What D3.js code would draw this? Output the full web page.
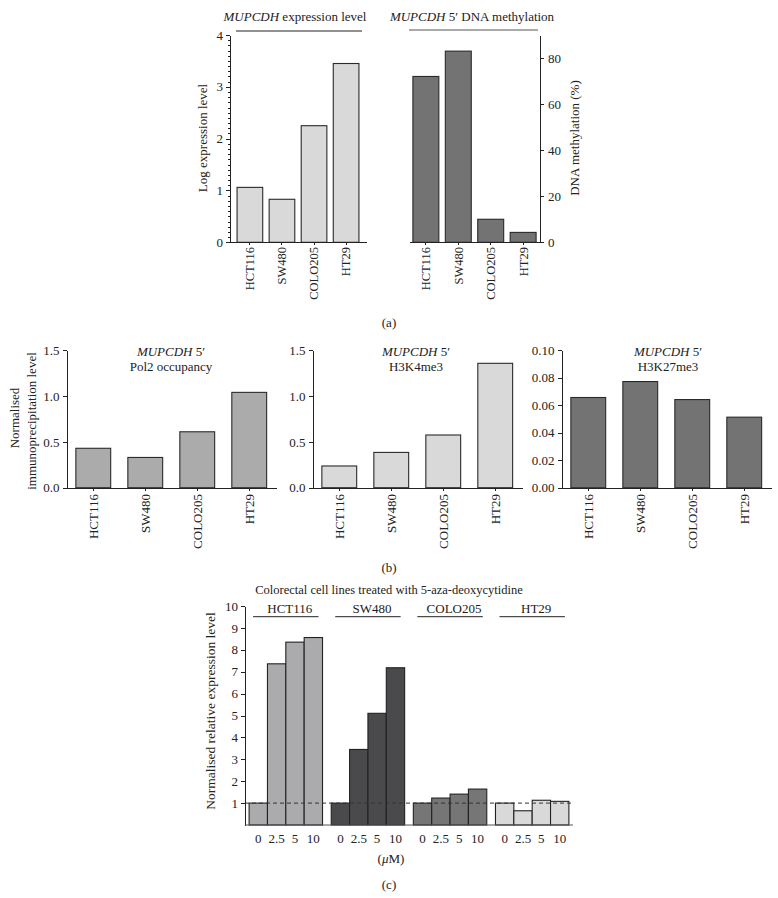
<!DOCTYPE html>
<html><head><meta charset="utf-8">
<script src="https://cdn.jsdelivr.net/npm/d3@7"></script>
<style>
body{margin:0;background:#fff;}
svg{display:block;font-family:"Liberation Serif","DejaVu Serif",serif;}
.ax path,.ax line{stroke:#222;stroke-width:1;shape-rendering:crispEdges;}
.ax text{font-size:13px;fill:#222;font-family:"Liberation Serif",serif;}
</style></head><body>
<svg id="c" width="778" height="898"></svg>
<script>
// ---------- DATA ----------
const cellLines = ["HCT116", "SW480", "COLO205", "HT29"];
const exprLevel = [1.06, 0.83, 2.25, 3.45];          // log expression level
const methylation = [72, 83, 10, 4.3];               // DNA methylation (%)
const exprTicks = [0, 1, 2, 3, 4];
const methTicks = [0, 20, 40, 60, 80];

const pol2 = [0.43, 0.33, 0.61, 1.04];
const h3k4me3 = [0.237, 0.385, 0.575, 1.357];
const h3k27me3 = [0.0656, 0.0772, 0.0641, 0.0513];
const bTicks15 = [0, 0.5, 1.0, 1.5];
const bTicks01 = [0, 0.02, 0.04, 0.06, 0.08, 0.10];

const doses = ["0", "2.5", "5", "10"];
const azaHCT116 = [1, 7.36, 8.35, 8.56];
const azaSW480 = [1, 3.45, 5.1, 7.18];
const azaCOLO205 = [1, 1.23, 1.41, 1.64];
const azaHT29 = [1, 0.65, 1.13, 1.08];
const cTicks = [1, 2, 3, 4, 5, 6, 7, 8, 9, 10];

// ---------- helpers ----------
const svg = d3.select("#c");
const INK = "#222";

function styleAxis(g){ g.attr("class","ax"); return g; }

function rotLabels(x, cats, y0, size){
  svg.append("g").selectAll("text").data(cats).join("text")
    .attr("transform", d => `translate(${x(d) + x.bandwidth()/2},${y0}) rotate(-90)`)
    .attr("text-anchor","end").attr("dy","0.35em")
    .style("font-size", size + "px").attr("fill", INK).text(d => d);
}

function bars(x, y, cats, vals, fill){
  svg.append("g").selectAll("rect").data(cats).join("rect")
    .attr("x", d => x(d)).attr("width", x.bandwidth())
    .attr("y", (d,i) => y(vals[i])).attr("height", (d,i) => y(0) - y(vals[i]))
    .attr("fill", fill).attr("stroke", "#2a2a2a").attr("stroke-width", 1.1);
}

function titleMUP(x, y, rest, size){
  const t = svg.append("text").attr("x", x).attr("y", y).attr("text-anchor","middle")
    .style("font-size", size + "px").attr("fill", INK);
  t.append("tspan").style("font-style","italic").text("MUPCDH");
  t.append("tspan").text(rest);
  return t;
}

function yLabel(x, y, txt, size){
  svg.append("text").attr("transform", `translate(${x},${y}) rotate(-90)`)
    .attr("text-anchor","middle").style("font-size", size+"px").attr("fill", INK).text(txt);
}

// ================= PANEL (a) =================
const yA = d3.scaleLinear().domain([0, 4]).range([242.3, 35]);
const yM = d3.scaleLinear().domain([0, 90]).range([242.3, 35]);
const xAL = d3.scaleBand().domain(cellLines).range([230, 366]).paddingInner(0.2).paddingOuter(0.22);
const xAR = d3.scaleBand().domain(cellLines).range([409, 540]).paddingInner(0.2).paddingOuter(0.12);

bars(xAL, yA, cellLines, exprLevel, "#d9d9d9");
bars(xAR, yM, cellLines, methylation, "#737373");

// minor ticks left
styleAxis(svg.append("g").attr("transform","translate(230,0)")
  .call(d3.axisLeft(yA).tickValues(d3.range(0, 41).map(i => i/10)).tickSize(2).tickSizeOuter(0).tickFormat("")));
styleAxis(svg.append("g").attr("transform","translate(230,0)")
  .call(d3.axisLeft(yA).tickValues(exprTicks).tickSize(4).tickSizeOuter(0).tickPadding(3).tickFormat(d3.format("d"))));
styleAxis(svg.append("g").attr("transform","translate(540,0)")
  .call(d3.axisRight(yM).tickValues(methTicks).tickSize(4).tickSizeOuter(0).tickPadding(4).tickFormat(d3.format("d"))));
styleAxis(svg.append("g").attr("transform",`translate(0,${yA(0)})`)
  .call(d3.axisBottom(xAL).tickSize(3).tickSizeOuter(0).tickFormat("")));
styleAxis(svg.append("g").attr("transform",`translate(0,${yA(0)})`)
  .call(d3.axisBottom(xAR).tickSize(3).tickSizeOuter(0).tickFormat("")));
rotLabels(xAL, cellLines, 247, 12.5);
rotLabels(xAR, cellLines, 247, 12.5);

titleMUP(295, 21, " expression level", 13);
titleMUP(472, 21, " 5\u2032 DNA methylation", 13);
svg.append("line").attr("x1", 236).attr("x2", 362).attr("y1", 31).attr("y2", 31).attr("stroke", INK);
svg.append("line").attr("x1", 409).attr("x2", 538).attr("y1", 30).attr("y2", 30).attr("stroke", "#555");
yLabel(207, 138, "Log expression level", 13);
yLabel(579, 138, "DNA methylation (%)", 13);
svg.append("text").attr("x", 389).attr("y", 327).attr("text-anchor","middle").style("font-size","13px").attr("fill",INK).text("(a)");

// ================= PANEL (b) =================
const bCharts = [
  {x0: 66.5, vals: pol2, fill: "#ababab", dom: 1.5, ticks: bTicks15, fmt: d3.format(".1f"), sub: "Pol2 occupancy", cx: 171},
  {x0: 312.5, vals: h3k4me3, fill: "#d9d9d9", dom: 1.5, ticks: bTicks15, fmt: d3.format(".1f"), sub: "H3K4me3", cx: 416},
  {x0: 561.5, vals: h3k27me3, fill: "#737373", dom: 0.10, ticks: bTicks01, fmt: d3.format(".2f"), sub: "H3K27me3", cx: 668}
];
bCharts.forEach(c => {
  const y = d3.scaleLinear().domain([0, c.dom]).range([487.7, 350.2]);
  const x = d3.scaleBand().domain(cellLines).range([c.x0, c.x0 + 209.5]).paddingInner(0.33).paddingOuter(0.18);
  bars(x, y, cellLines, c.vals, c.fill);
  styleAxis(svg.append("g").attr("transform",`translate(${c.x0},0)`)
    .call(d3.axisLeft(y).tickValues(c.ticks).tickSize(4).tickSizeOuter(0).tickPadding(3).tickFormat(c.fmt)));
  styleAxis(svg.append("g").attr("transform",`translate(0,${y(0)})`)
    .call(d3.axisBottom(x).tickSize(3).tickSizeOuter(0).tickFormat("")));
  rotLabels(x, cellLines, 494, 13);
  titleMUP(c.cx, 356, " 5\u2032", 13);
  svg.append("text").attr("x", c.cx).attr("y", 371).attr("text-anchor","middle")
    .style("font-size","13px").attr("fill",INK).text(c.sub);
});
yLabel(19, 418, "Normalised", 13);
yLabel(36, 421, "immunoprecipitation level", 13);
svg.append("text").attr("x", 389).attr("y", 572).attr("text-anchor","middle").style("font-size","13px").attr("fill",INK).text("(b)");

// ================= PANEL (c) =================
const groups = [
  {name: "HCT116", vals: azaHCT116, fill: "#ababad"},
  {name: "SW480", vals: azaSW480, fill: "#4a4a4c"},
  {name: "COLO205", vals: azaCOLO205, fill: "#767677"},
  {name: "HT29", vals: azaHT29, fill: "#d9d9d9"}
];
const yC = d3.scaleLinear().domain([0, 10]).range([825, 606]);
const xG = d3.scaleBand().domain(groups.map(g => g.name)).range([245, 573]).paddingInner(0.106).paddingOuter(0.05);
const xD = d3.scaleBand().domain(doses).range([0, xG.bandwidth()]).padding(0);

groups.forEach(g => {
  const gg = svg.append("g").attr("transform", `translate(${xG(g.name)},0)`);
  gg.selectAll("rect").data(doses).join("rect")
    .attr("x", d => xD(d)).attr("width", xD.bandwidth())
    .attr("y", (d,i) => yC(g.vals[i])).attr("height", (d,i) => yC(0) - yC(g.vals[i]))
    .attr("fill", g.fill).attr("stroke", "#222").attr("stroke-width", 1.1);
  gg.selectAll("text").data(doses).join("text")
    .attr("x", d => xD(d) + xD.bandwidth()/2).attr("y", 843).attr("text-anchor","middle")
    .style("font-size","13px").attr("fill",INK).text(d => d);
  // group header
  svg.append("text").attr("x", xG(g.name) + xG.bandwidth()/2 + 4).attr("y", 613).attr("text-anchor","middle")
    .style("font-size","13px").attr("fill",INK).text(g.name);
  svg.append("line").attr("x1", xG(g.name) + 4).attr("x2", xG(g.name) + xG.bandwidth() - 4)
    .attr("y1", 616.7).attr("y2", 616.7).attr("stroke", INK);
});
// reference dashed line at 1
svg.append("line").attr("x1", 245).attr("x2", 573).attr("y1", yC(1)).attr("y2", yC(1))
  .attr("stroke", "#333").attr("stroke-dasharray", "4,3");

styleAxis(svg.append("g").attr("transform","translate(245,0)")
  .call(d3.axisLeft(yC).tickValues(cTicks).tickSize(4).tickSizeOuter(0).tickPadding(3).tickFormat(d3.format("d"))));
svg.append("line").attr("x1", 245).attr("x2", 573).attr("y1", yC(0)).attr("y2", yC(0)).attr("stroke", "#555");

svg.append("text").attr("x", 389).attr("y", 594).attr("text-anchor","middle").style("font-size","12.5px").attr("fill",INK)
  .text("Colorectal cell lines treated with 5-aza-deoxycytidine");
yLabel(215, 711, "Normalised relative expression level", 13.5);
const mu = svg.append("text").attr("x", 391).attr("y", 863).attr("text-anchor","middle").style("font-size","13px").attr("fill",INK);
mu.append("tspan").text("(");
mu.append("tspan").style("font-style","italic").text("\u03bc");
mu.append("tspan").text("M)");
svg.append("text").attr("x", 389).attr("y", 889).attr("text-anchor","middle").style("font-size","13px").attr("fill",INK).text("(c)");
</script>
</body></html>
